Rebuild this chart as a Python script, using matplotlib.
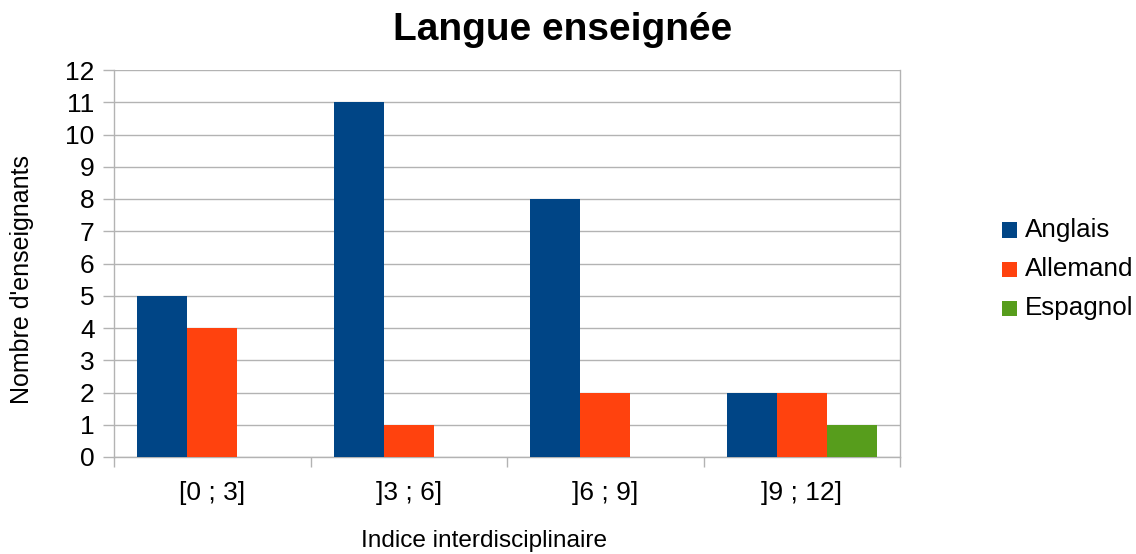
import matplotlib
matplotlib.use("Agg")
import matplotlib.pyplot as plt
import numpy as np
from matplotlib.patches import Rectangle

categories = ["[0 ; 3]", "]3 ; 6]", "]6 ; 9]", "]9 ; 12]"]
series = ["Anglais", "Allemand", "Espagnol"]
anglais = [5, 11, 8, 2]
allemand = [4, 1, 2, 2]
espagnol = [0, 0, 0, 1]
colors = ["#004586", "#ff420e", "#579d1c"]
title = "Langue enseignée"
xlabel = "Indice interdisciplinaire"
ylabel = "Nombre d'enseignants"
yticks = list(range(0, 13))

plt.rcParams['font.family'] = ['Liberation Sans', 'DejaVu Sans']
grey = "#b3b3b3"

fig = plt.figure(figsize=(11.36, 5.54), dpi=100)
ax = fig.add_axes([114/1136, 1-457/554, (900-114)/1136, (457-70)/554])

values = [anglais, allemand, espagnol]
w = 0.255
x = np.arange(len(categories)) + 0.5
for k, (vals, c) in enumerate(zip(values, colors)):
    ax.bar(x + (k-1)*w, vals, width=w, color=c, linewidth=0, zorder=3)

ax.set_xlim(0, len(categories))
ax.set_ylim(0, 12)
ax.set_yticks(yticks)
ax.set_yticklabels([str(t) for t in yticks])
ax.set_xticks(np.arange(len(categories)+1))
ax.set_xticklabels([])
ax.set_xticks(x, minor=True)
ax.set_xticklabels(categories, minor=True)
ax.tick_params(axis='x', which='major', length=7.5, width=1.0, color=grey, direction='out')
ax.tick_params(axis='x', which='minor', length=0, pad=17, labelsize=19)
ax.tick_params(axis='y', length=8, width=1.0, color=grey, pad=6, labelsize=19)
ax.yaxis.grid(True, color=grey, linewidth=1.0, zorder=0)
ax.set_axisbelow(True)
for s in ['left', 'bottom', 'right']:
    ax.spines[s].set_color(grey)
    ax.spines[s].set_linewidth(1.0)
ax.spines['top'].set_visible(False)

fig.text(563/1136, 1-30/554, title, ha='center', va='center', fontsize=28, fontweight='bold')
fig.text(484/1136, 1-541/554, xlabel, ha='center', va='center', fontsize=17.6)
fig.text(22/1136, 1-280/554, ylabel, ha='center', va='center', rotation=90, fontsize=18)

for i, (name, c) in enumerate(zip(series, colors)):
    cy = 230 + i*39
    fig.patches.append(Rectangle((1002/1136, 1-(cy+7.5)/554), 15/1136, 15/554,
                                 transform=fig.transFigure, facecolor=c, edgecolor='none'))
    fig.text(1025/1136, 1-cy/554, name, ha='left', va='center', fontsize=18.7)

fig.savefig("out.png", dpi=100)
